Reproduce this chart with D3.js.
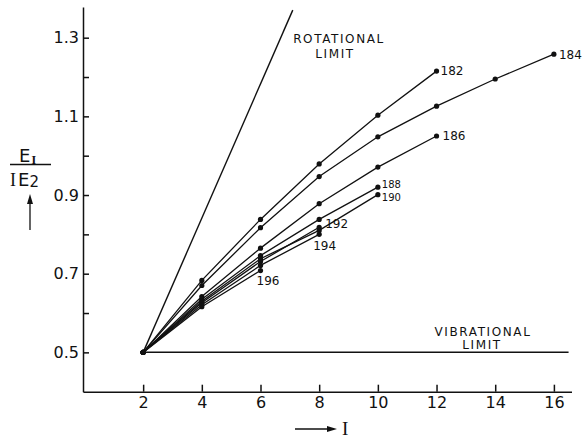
<!DOCTYPE html>
<html><head><meta charset="utf-8">
<script src="https://cdn.jsdelivr.net/npm/d3@7"></script>
<style>
body{margin:0;background:#fff;}
svg{display:block;}
text{font-family:"DejaVu Sans",sans-serif;fill:#111;}
</style></head>
<body>
<script>
// ---- data ----
const spinLevels = [2, 4, 6, 8, 10, 12, 14, 16];
const isotopes = ["182", "184", "186", "188", "190", "192", "194", "196"];
const ratio182 = [0.5, 0.683, 0.838, 0.979, 1.103, 1.215];
const ratio184 = [0.5, 0.670, 0.817, 0.947, 1.048, 1.126, 1.195, 1.258];
const ratio186 = [0.5, 0.642, 0.765, 0.878, 0.971, 1.050];
const ratio188 = [0.5, 0.635, 0.746, 0.838, 0.920];
const ratio190 = [0.5, 0.630, 0.738, 0.810, 0.901];
const ratio192 = [0.5, 0.626, 0.731, 0.818];
const ratio194 = [0.5, 0.621, 0.721, 0.800];
const ratio196 = [0.5, 0.616, 0.708];
const rotationalI = [2, 7.1];
const rotationalRatio = [0.5, 1.37];
const vibrationalI = [2, 16.5];
const vibrationalRatio = [0.5, 0.5];
const xTicks = [2, 4, 6, 8, 10, 12, 14, 16];
const yTicks = [0.5, 0.6, 0.7, 0.8, 0.9, 1.0, 1.1, 1.2, 1.3];
const yLabelled = [0.5, 0.7, 0.9, 1.1, 1.3];

const seriesValues = [ratio182, ratio184, ratio186, ratio188, ratio190, ratio192, ratio194, ratio196];

const W = 582, H = 438;
const svg = d3.select("body").append("svg").attr("width", W).attr("height", H);

const x = d3.scaleLinear().domain([-0.05, 16.6]).range([83, 571.5]);
const y = d3.scaleLinear().domain([0.4, 1.378]).range([391.7, 7]);

// axes
const yAxis = d3.axisLeft(y).tickValues(yTicks).tickSizeInner(-6).tickSizeOuter(0).tickPadding(4)
  .tickFormat(d => yLabelled.some(v => Math.abs(v - d) < 1e-9) ? d3.format(".1f")(d) : "");
const gy = svg.append("g").attr("transform", `translate(${x(-0.05)},0)`).call(yAxis);
const xAxis = d3.axisBottom(x).tickValues(xTicks).tickSizeInner(-7).tickSizeOuter(0).tickPadding(5)
  .tickFormat(d3.format("d"));
const gx = svg.append("g").attr("transform", `translate(0,${y(0.4)})`).call(xAxis);
[gx, gy].forEach(g => {
  g.selectAll("path,line").attr("stroke", "#111").attr("stroke-width", 1.5);
  g.selectAll("text").style("font-size", "16px").attr("fill", "#111");
});

const line = d3.line().x(d => x(d[0])).y(d => y(d[1]));

// limits
const rot = rotationalI.map((v, i) => [v, rotationalRatio[i]]);
const vib = vibrationalI.map((v, i) => [v, vibrationalRatio[i]]);
svg.append("path").attr("d", line(rot)).attr("fill", "none").attr("stroke", "#111").attr("stroke-width", 1.4);
svg.append("path").attr("d", line(vib)).attr("fill", "none").attr("stroke", "#111").attr("stroke-width", 1.5);

// series
seriesValues.forEach((vals, si) => {
  const pts = vals.map((v, i) => [spinLevels[i], v]);
  svg.append("path").attr("d", line(pts)).attr("fill", "none").attr("stroke", "#111").attr("stroke-width", 1.3);
  svg.append("g").selectAll("circle").data(pts).join("circle")
    .attr("cx", d => x(d[0])).attr("cy", d => y(d[1])).attr("r", 2.6).attr("fill", "#111");
});

// series labels (position relative to the series end point)
const labelOffsets = {
  "182": [4, 0], "184": [5, 0], "186": [6, 0], "188": [4, -2.5], "190": [4, 2.5],
  "192": [6, -4], "194": [-6, 11], "196": [-4, 10]
};
const labelSizes = { "188": "10px", "190": "10px" };
isotopes.forEach((name, si) => {
  const vals = seriesValues[si];
  const last = vals.length - 1;
  const px = x(spinLevels[last]), py = y(vals[last]);
  const off = labelOffsets[name];
  svg.append("text").attr("x", px + off[0]).attr("y", py + off[1]).attr("dy", "0.36em")
    .style("font-size", labelSizes[name] || "12px").text(name);
});

// limit labels
svg.append("text").attr("x", 339).attr("y", 43).attr("text-anchor", "middle")
  .style("font-size", "12px").style("letter-spacing", "1.6px").text("ROTATIONAL");
svg.append("text").attr("x", 335).attr("y", 58).attr("text-anchor", "middle")
  .style("font-size", "12px").style("letter-spacing", "1.6px").text("LIMIT");
svg.append("text").attr("x", 483).attr("y", 336).attr("text-anchor", "middle")
  .style("font-size", "12px").style("letter-spacing", "1.6px").text("VIBRATIONAL");
svg.append("text").attr("x", 482).attr("y", 349).attr("text-anchor", "middle")
  .style("font-size", "12px").style("letter-spacing", "1.6px").text("LIMIT");

// y axis title: E_I / I E_2 with arrow
const yt = svg.append("g");
const t1 = yt.append("text").attr("x", 19).attr("y", 162).style("font-size", "18px");
t1.append("tspan").text("E");
t1.append("tspan").attr("dx", 1).attr("dy", 2).style("font-size", "12px").style("font-weight", "bold")
  .style("font-family", "Liberation Serif, serif").text("I");
yt.append("line").attr("x1", 10).attr("x2", 51).attr("y1", 164.5).attr("y2", 164.5).attr("stroke", "#111").attr("stroke-width", 1.4);
const t2 = yt.append("text").attr("x", 10).attr("y", 186).style("font-size", "18px");
t2.append("tspan").style("font-family", "Liberation Serif, serif").text("I");
t2.append("tspan").attr("dx", 2).text("E");
t2.append("tspan").attr("dy", 1).style("font-size", "15px").text("2");
yt.append("line").attr("x1", 30).attr("x2", 30).attr("y1", 201).attr("y2", 230).attr("stroke", "#111").attr("stroke-width", 1.3);
yt.append("path").attr("d", "M30,194 L27,204 L33,204 Z").attr("fill", "#111");

// x axis title: arrow + I
svg.append("line").attr("x1", 295).attr("x2", 330).attr("y1", 429).attr("y2", 429).attr("stroke", "#111").attr("stroke-width", 1.3);
svg.append("path").attr("d", "M337,429 L327,426 L327,432 Z").attr("fill", "#111");
svg.append("text").attr("x", 342).attr("y", 435).style("font-size", "19px")
  .style("font-family", "Liberation Serif, serif").text("I");
</script>
</body></html>
